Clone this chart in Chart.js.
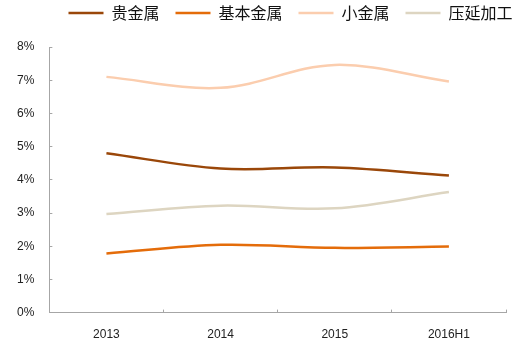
<!DOCTYPE html>
<html>
<head>
<meta charset="utf-8">
<script src="https://cdn.jsdelivr.net/npm/chart.js@4.4.1/dist/chart.umd.min.js"></script>
<style>
    html, body { margin: 0; padding: 0; background: #ffffff; }
    #wrap { width: 523px; height: 345px; position: relative; }
</style>
</head>
<body>
<div id="wrap"><canvas id="metalChart"></canvas></div>
<script>
// Categories and series (percent)
var years = ['2013', '2014', '2015', '2016H1'];
var preciousMetals = [4.80, 4.34, 4.37, 4.13];
var baseMetals = [1.78, 2.04, 1.95, 1.99];
var minorMetals = [7.10, 6.77, 7.46, 6.96];
var rollingProcessing = [2.97, 3.22, 3.14, 3.63];
var seriesNames = ['贵金属', '基本金属', '小金属', '压延加工'];

var colors = {
    precious: '#9a4709',
    base: '#e46c0a',
    minor: '#fbcdae',
    rolling: '#ddd5c1',
    axis: '#a6a6a6',
    text: '#222222'
};

// nudge the legend row to sit where it belongs above the plot
var legendShift = {
    id: 'legendShift',
    afterLayout: function (chart) {
        var lg = chart.legend;
        if (!lg) {
            return;
        }
        lg.left += 38;
        lg.right += 38;
        lg.top -= 16;
        lg.bottom -= 16;
    }
};

function lineSet(label, values, color) {
    return {
        label: label,
        data: values,
        borderColor: color,
        backgroundColor: color,
        borderWidth: 2.5,
        pointRadius: 0,
        pointHoverRadius: 0,
        fill: false,
        tension: 0.35
    };
}

Chart.defaults.font.family = '"Liberation Sans", Arial, sans-serif';
Chart.defaults.color = colors.text;

new Chart(document.getElementById('metalChart'), {
    type: 'line',
    data: {
        labels: years,
        datasets: [
            lineSet(seriesNames[0], preciousMetals, colors.precious),
            lineSet(seriesNames[1], baseMetals, colors.base),
            lineSet(seriesNames[2], minorMetals, colors.minor),
            lineSet(seriesNames[3], rollingProcessing, colors.rolling)
        ]
    },
    options: {
        responsive: true,
        maintainAspectRatio: false,
        animation: false,
        layout: {
            padding: { top: 5, left: -1, right: 17, bottom: -15 }
        },
        scales: {
            x: {
                offset: true,
                grid: {
                    offset: true,
                    drawOnChartArea: false,
                    tickLength: -3,
                    color: colors.axis
                },
                border: { color: colors.axis, width: 1 },
                ticks: {
                    padding: 18,
                    font: { size: 12 },
                    color: colors.text
                }
            },
            y: {
                min: 0,
                max: 8,
                grid: {
                    drawOnChartArea: false,
                    tickLength: -3,
                    color: colors.axis
                },
                border: { color: colors.axis, width: 1 },
                ticks: {
                    stepSize: 1,
                    padding: 18,
                    font: { size: 12 },
                    color: colors.text,
                    callback: function (value) {
                        return value + '%';
                    }
                }
            }
        },
        plugins: {
            legend: {
                position: 'top',
                labels: {
                    usePointStyle: true,
                    pointStyle: 'line',
                    pointStyleWidth: 35,
                    padding: 16,
                    color: '#111111',
                    font: {
                        family: '"Noto Sans CJK SC", sans-serif',
                        size: 16
                    }
                }
            },
            tooltip: { enabled: false }
        }
    },
    plugins: [legendShift]
});
</script>
</body>
</html>
